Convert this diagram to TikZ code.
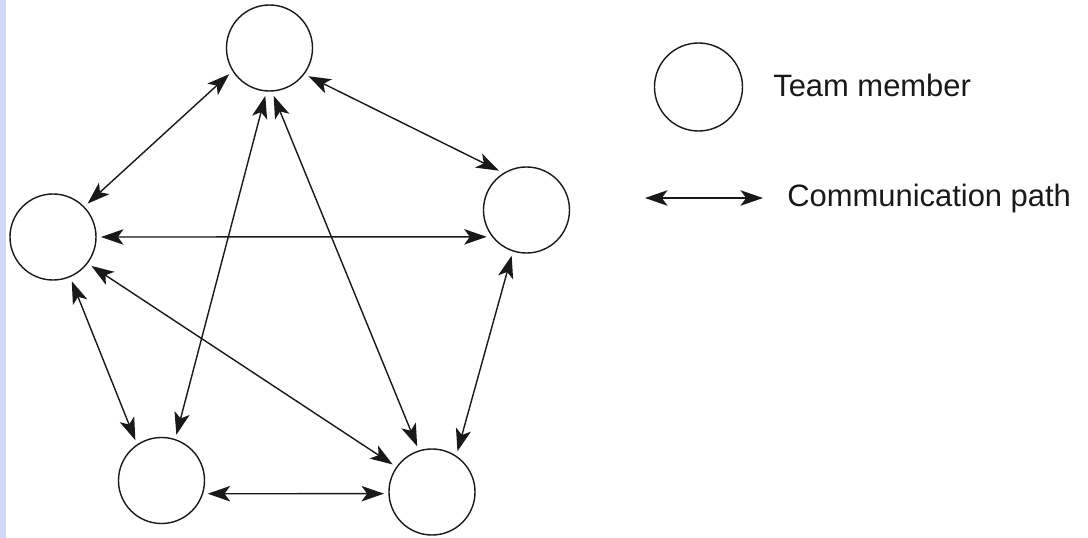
\documentclass[tikz,border=0pt]{standalone}
\usepackage{fontspec}
\setmainfont{Liberation Sans}
\usetikzlibrary{arrows.meta}
\definecolor{stripblue}{RGB}{208,216,250}
\definecolor{inkgray}{RGB}{25,25,25}
\begin{document}
\begin{tikzpicture}[x=0.025cm,y=-0.025cm,
		member/.style={circle,draw=inkgray,line width=1pt,minimum size=2.15cm,inner sep=0pt,outer sep=0.125cm},
		link/.style={{Stealth[length=16pt,width=11pt,inset=4pt]}-{Stealth[length=16pt,width=11pt,inset=4pt]},line width=1pt,draw=inkgray,fill=inkgray},
		keytext/.style={anchor=base west,inner sep=0pt,text=inkgray,font=\fontsize{22}{26}\selectfont}]
	\useasboundingbox (0,0) rectangle (1088,538);
	\fill[stripblue] (0,0) rectangle (6,538);
	
	% team members
	\node[member] (T) at (269.5,48) {};
	\node[member] (L) at (53,237) {};
	\node[member] (R) at (526.5,210) {};
	\node[member] (BL) at (161.5,480.5) {};
	\node[member] (BR) at (432,492) {};
	
	% communication paths
	\draw[link] (T.213)--(L.44);
	\draw[link] (T.-36)--(R.125);
	\draw[link] (L.0)--(R.214);
	\draw[link] (T.-95)--(BL.72);
	\draw[link] (T.-85)--(BR.108);
	\draw[link] (L.-67)--(BL.123);
	\draw[link] (L.-37)--(BR.145);
	\draw[link] (BL.-16)--(BR.182);
	\draw[link] (R.252)--(BR.58);
	
	% key
	\node[member,minimum size=2.2cm] (key) at (698.5,87) {};
	\node[keytext] (keymember) at (773,97) {Team member};
	\coordinate (keyA) at (645,198);
	\coordinate (keyB) at (763,198);
	\draw[link] (keyA)--(keyB);
	\node[keytext] (keypath) at (787,207) {Communication path};
\end{tikzpicture}
\end{document}
